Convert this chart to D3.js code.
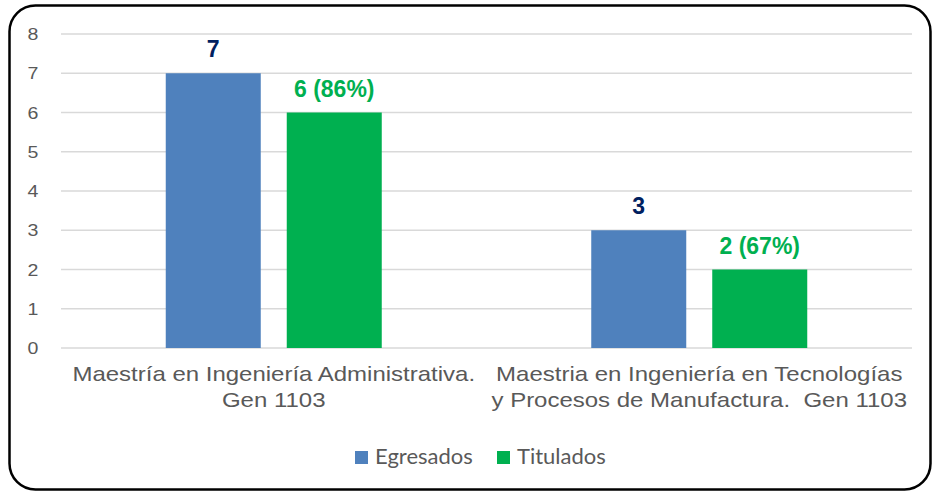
<!DOCTYPE html>
<html>
<head>
<meta charset="utf-8">
<script src="https://cdn.jsdelivr.net/npm/d3@7"></script>
<style>
  body { margin: 0; background: #fff; }
  svg { display: block; }
  text { white-space: pre; }
</style>
</head>
<body>
<div id="chart"></div>
<script>
// chart data
const categories = [
    ['Maestría en Ingeniería Administrativa.', 'Gen 1103'],
    ['Maestria en Ingeniería en Tecnologías', 'y Procesos de Manufactura.  Gen 1103']
];
const seriesNames = ['Egresados', 'Titulados'];
const egresados = [7, 3];
const titulados = [6, 2];
const tituladosLabels = ['6 (86%)', '2 (67%)'];
const yTicks = [0, 1, 2, 3, 4, 5, 6, 7, 8];

const width = 932, height = 492;
const margin = {top: 34, right: 20, bottom: 144, left: 61};
const colors = ['#4F81BD', '#00B050'];
const labelColors = ['#002060', '#00B050'];

const svg = d3.select('#chart').append('svg')
    .attr('width', width)
    .attr('height', height);

// outer rounded frame
svg.append('rect')
    .attr('x', 9.5)
    .attr('y', 5.5)
    .attr('width', 921)
    .attr('height', 484)
    .attr('rx', 26)
    .attr('fill', 'none')
    .attr('stroke', '#000')
    .attr('stroke-width', 2.5);

const plotW = width - margin.left - margin.right;
const plotH = height - margin.top - margin.bottom;

const g = svg.append('g')
    .attr('transform', 'translate(' + margin.left + ',' + margin.top + ')');

const x0 = d3.scaleBand().domain(d3.range(categories.length)).range([0, plotW]);
const y = d3.scaleLinear().domain([0, 8]).range([plotH, 0]);

// gridlines
g.selectAll('.grid')
    .data(yTicks)
    .enter().append('line')
    .attr('class', 'grid')
    .attr('x1', 0)
    .attr('x2', plotW)
    .attr('y1', d => y(d))
    .attr('y2', d => y(d))
    .attr('stroke', '#D9D9D9')
    .attr('stroke-width', 1.5);

// y tick labels
g.selectAll('.ytick')
    .data(yTicks)
    .enter().append('text')
    .attr('class', 'ytick')
    .attr('transform', d => 'translate(-28,' + y(d) + ') scale(1.15,1)')
    .attr('dy', '.36em')
    .attr('text-anchor', 'middle')
    .attr('fill', '#595959')
    .style('font-family', 'Liberation Sans, Arial, sans-serif')
    .style('font-size', '17px')
    .text(d => d);

const barW = 95, barGap = 26;
const series = [egresados, titulados];
const valueLabels = [egresados.map(String), tituladosLabels];

series.forEach((vals, s) => {
    const offset = s === 0 ? -(barGap / 2 + barW) : barGap / 2;
    g.selectAll('.bar' + s)
        .data(vals)
        .enter().append('rect')
        .attr('class', 'bar' + s)
        .attr('x', (d, i) => x0(i) + x0.bandwidth() / 2 + offset)
        .attr('y', d => y(d))
        .attr('width', barW)
        .attr('height', d => plotH - y(d))
        .attr('fill', colors[s]);

    g.selectAll('.vlabel' + s)
        .data(vals)
        .enter().append('text')
        .attr('class', 'vlabel' + s)
        .attr('x', (d, i) => x0(i) + x0.bandwidth() / 2 + offset + barW / 2)
        .attr('y', d => y(d) - 16)
        .attr('text-anchor', 'middle')
        .attr('fill', labelColors[s])
        .style('font-family', 'Liberation Sans, Arial, sans-serif')
        .style('font-weight', 'bold')
        .style('font-size', '23px')
        .text((d, i) => valueLabels[s][i]);
});

// category labels (slightly stretched like the source image)
const catLabels = g.selectAll('.cat')
    .data(categories)
    .enter().append('text')
    .attr('class', 'cat')
    .attr('transform', (d, i) => 'translate(' + (x0(i) + x0.bandwidth() / 2) + ',' + (plotH + 33) + ') scale(1.2,1)')
    .attr('text-anchor', 'middle')
    .attr('fill', '#595959')
    .style('font-family', 'Liberation Sans, Arial, sans-serif')
    .style('font-size', '20px');

catLabels.selectAll('tspan')
    .data(d => d)
    .enter().append('tspan')
    .attr('x', 0)
    .attr('dy', (d, i) => i === 0 ? 0 : 26)
    .text(d => d);

// legend
const legendItems = [
    {name: seriesNames[0], color: colors[0], x: 355},
    {name: seriesNames[1], color: colors[1], x: 497}
];
const legend = svg.selectAll('.legend')
    .data(legendItems)
    .enter().append('g')
    .attr('class', 'legend')
    .attr('transform', d => 'translate(' + d.x + ',451)');

legend.append('rect')
    .attr('width', 13)
    .attr('height', 13)
    .attr('fill', d => d.color);

legend.append('text')
    .attr('x', 20)
    .attr('y', 13)
    .attr('fill', '#595959')
    .style('font-family', 'Lato, Open Sans, sans-serif')
    .style('font-size', '22px')
    .text(d => d.name);
</script>
</body>
</html>
